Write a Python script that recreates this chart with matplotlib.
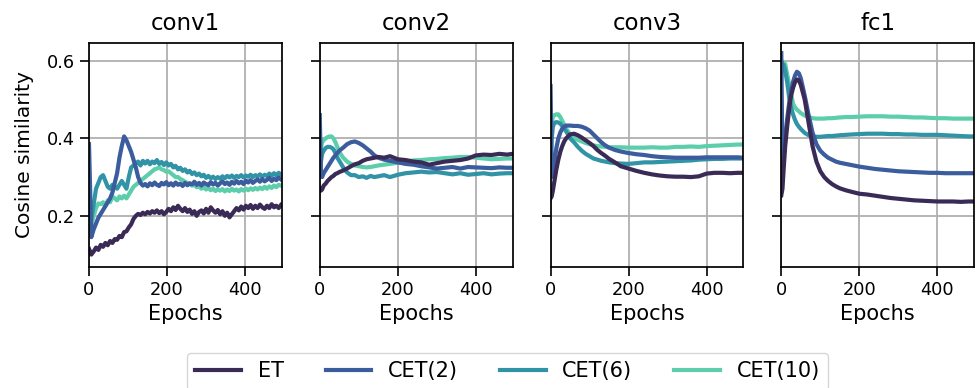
import matplotlib.pyplot as plt

labels = ["ET", "CET(2)", "CET(6)", "CET(10)"]
colors = ["#3a2b56", "#3b5c9d", "#3193a6", "#5dceab"]
titles = ["conv1", "conv2", "conv3", "fc1"]

# conv1 is noisy, read every 6 epochs
ep_conv1 = list(range(0, 495, 6))

conv1_et = [0.115, 0.100, 0.108, 0.118, 0.112, 0.125, 0.120, 0.130, 0.124, 0.135,
            0.130, 0.140, 0.138, 0.148, 0.145, 0.158, 0.160, 0.170, 0.178, 0.192,
            0.200, 0.205, 0.202, 0.208, 0.204, 0.210, 0.206, 0.212, 0.208, 0.214,
            0.207, 0.212, 0.204, 0.210, 0.218, 0.212, 0.222, 0.215, 0.226, 0.218,
            0.212, 0.220, 0.210, 0.216, 0.205, 0.212, 0.200, 0.210, 0.214, 0.206,
            0.218, 0.208, 0.222, 0.214, 0.208, 0.215, 0.204, 0.212, 0.200, 0.208,
            0.196, 0.204, 0.212, 0.220, 0.214, 0.224, 0.216, 0.226, 0.220, 0.228,
            0.218, 0.226, 0.220, 0.229, 0.222, 0.218, 0.226, 0.220, 0.230, 0.222,
            0.226, 0.220, 0.228]
conv1_c2 = [0.385, 0.145, 0.165, 0.180, 0.195, 0.205, 0.215, 0.225, 0.235, 0.245,
            0.260, 0.285, 0.310, 0.350, 0.380, 0.405, 0.395, 0.380, 0.365, 0.345,
            0.325, 0.300, 0.285, 0.278, 0.282, 0.276, 0.284, 0.279, 0.286, 0.280,
            0.277, 0.285, 0.281, 0.287, 0.279, 0.284, 0.278, 0.286, 0.280, 0.283,
            0.277, 0.285, 0.279, 0.284, 0.281, 0.288, 0.280, 0.285, 0.278, 0.286,
            0.282, 0.279, 0.287, 0.281, 0.285, 0.278, 0.284, 0.289, 0.282, 0.286,
            0.280, 0.288, 0.283, 0.290, 0.284, 0.288, 0.282, 0.291, 0.286, 0.292,
            0.285, 0.290, 0.294, 0.288, 0.295, 0.289, 0.293, 0.298, 0.290, 0.296,
            0.292, 0.299, 0.294]
conv1_c6 = [0.160, 0.190, 0.230, 0.270, 0.285, 0.300, 0.305, 0.290, 0.275, 0.270,
            0.280, 0.275, 0.270, 0.280, 0.290, 0.280, 0.270, 0.300, 0.325, 0.330,
            0.335, 0.340, 0.330, 0.342, 0.335, 0.342, 0.333, 0.340, 0.336, 0.344,
            0.334, 0.339, 0.331, 0.338, 0.330, 0.334, 0.325, 0.329, 0.320, 0.324,
            0.316, 0.320, 0.312, 0.316, 0.308, 0.312, 0.305, 0.309, 0.302, 0.306,
            0.298, 0.303, 0.297, 0.301, 0.295, 0.300, 0.296, 0.302, 0.297, 0.303,
            0.299, 0.304, 0.298, 0.303, 0.300, 0.305, 0.299, 0.304, 0.301, 0.306,
            0.300, 0.305, 0.302, 0.307, 0.301, 0.306, 0.303, 0.309, 0.304, 0.310,
            0.305, 0.311, 0.307]
conv1_c10 = [0.160, 0.175, 0.200, 0.220, 0.232, 0.230, 0.235, 0.225, 0.240, 0.235,
             0.250, 0.245, 0.240, 0.250, 0.245, 0.252, 0.245, 0.255, 0.265, 0.275,
             0.280, 0.285, 0.290, 0.295, 0.300, 0.305, 0.310, 0.315, 0.320, 0.322,
             0.325, 0.320, 0.318, 0.314, 0.315, 0.310, 0.305, 0.300, 0.300, 0.295,
             0.292, 0.288, 0.285, 0.282, 0.278, 0.280, 0.274, 0.276, 0.270, 0.274,
             0.268, 0.272, 0.266, 0.270, 0.264, 0.268, 0.265, 0.269, 0.263, 0.268,
             0.264, 0.270, 0.265, 0.268, 0.263, 0.269, 0.265, 0.270, 0.266, 0.271,
             0.267, 0.272, 0.268, 0.273, 0.269, 0.275, 0.270, 0.276, 0.272, 0.278,
             0.274, 0.280, 0.278]

# conv2, conv3 and fc1 are smoother
ep = [0, 3, 6, 10, 15, 20, 25, 30, 35, 40, 45, 50, 60, 70, 80, 90, 100, 110, 120, 130,
      140, 150, 165, 180, 200, 220, 240, 260, 280, 300, 320, 340, 360, 380, 400, 420,
      440, 460, 480, 494]

conv2_et = [0.270, 0.265, 0.268, 0.278, 0.283, 0.290, 0.295, 0.300, 0.303, 0.308,
            0.310, 0.313, 0.317, 0.322, 0.328, 0.333, 0.336, 0.342, 0.346, 0.348,
            0.350, 0.352, 0.350, 0.354, 0.346, 0.344, 0.340, 0.338, 0.332, 0.336,
            0.340, 0.342, 0.344, 0.348, 0.356, 0.358, 0.357, 0.360, 0.358, 0.360]
conv2_c2 = [0.460, 0.310, 0.300, 0.310, 0.318, 0.326, 0.334, 0.342, 0.350, 0.356,
            0.362, 0.368, 0.376, 0.385, 0.390, 0.392, 0.388, 0.382, 0.374, 0.366,
            0.356, 0.350, 0.345, 0.342, 0.338, 0.334, 0.332, 0.328, 0.325, 0.322,
            0.324, 0.326, 0.322, 0.326, 0.325, 0.324, 0.323, 0.325, 0.324, 0.324]
conv2_c6 = [0.310, 0.340, 0.360, 0.368, 0.375, 0.378, 0.378, 0.376, 0.372, 0.362,
            0.350, 0.342, 0.325, 0.312, 0.305, 0.305, 0.300, 0.302, 0.298, 0.303,
            0.300, 0.302, 0.305, 0.300, 0.306, 0.310, 0.312, 0.314, 0.312, 0.313,
            0.310, 0.307, 0.310, 0.306, 0.308, 0.310, 0.307, 0.309, 0.310, 0.310]
conv2_c10 = [0.350, 0.375, 0.390, 0.395, 0.400, 0.403, 0.405, 0.405, 0.400, 0.390,
             0.378, 0.365, 0.350, 0.340, 0.334, 0.330, 0.328, 0.326, 0.325, 0.326,
             0.328, 0.330, 0.332, 0.334, 0.337, 0.340, 0.343, 0.344, 0.346, 0.347,
             0.349, 0.350, 0.352, 0.352, 0.350, 0.348, 0.346, 0.347, 0.348, 0.348]

conv3_et = [0.245, 0.250, 0.265, 0.290, 0.320, 0.345, 0.365, 0.380, 0.392, 0.400,
            0.405, 0.410, 0.412, 0.408, 0.402, 0.395, 0.388, 0.380, 0.370, 0.362,
            0.355, 0.347, 0.338, 0.328, 0.322, 0.316, 0.311, 0.307, 0.304, 0.302,
            0.301, 0.301, 0.300, 0.302, 0.309, 0.311, 0.311, 0.310, 0.311, 0.311]
conv3_c2 = [0.535, 0.300, 0.310, 0.340, 0.375, 0.400, 0.415, 0.425, 0.430, 0.433,
            0.433, 0.433, 0.432, 0.432, 0.430, 0.426, 0.420, 0.410, 0.400, 0.390,
            0.382, 0.376, 0.370, 0.366, 0.362, 0.359, 0.357, 0.354, 0.352, 0.351,
            0.350, 0.350, 0.350, 0.350, 0.351, 0.351, 0.351, 0.351, 0.351, 0.350]
conv3_c6 = [0.330, 0.400, 0.430, 0.440, 0.442, 0.441, 0.438, 0.432, 0.425, 0.418,
            0.410, 0.400, 0.390, 0.378, 0.368, 0.360, 0.354, 0.348, 0.345, 0.342,
            0.340, 0.338, 0.336, 0.335, 0.334, 0.336, 0.338, 0.338, 0.339, 0.340,
            0.341, 0.342, 0.343, 0.345, 0.346, 0.347, 0.347, 0.348, 0.348, 0.348]
conv3_c10 = [0.400, 0.440, 0.455, 0.460, 0.462, 0.462, 0.455, 0.445, 0.435, 0.425,
             0.418, 0.410, 0.402, 0.396, 0.392, 0.388, 0.385, 0.382, 0.380, 0.379,
             0.378, 0.377, 0.377, 0.377, 0.376, 0.376, 0.376, 0.377, 0.376, 0.376,
             0.378, 0.378, 0.379, 0.378, 0.380, 0.381, 0.382, 0.383, 0.384, 0.384]

fc1_et = [0.253, 0.270, 0.320, 0.380, 0.430, 0.475, 0.510, 0.530, 0.545, 0.552,
          0.550, 0.538, 0.500, 0.440, 0.380, 0.340, 0.315, 0.300, 0.290, 0.282,
          0.276, 0.271, 0.266, 0.262, 0.257, 0.255, 0.252, 0.249, 0.246, 0.244,
          0.242, 0.240, 0.239, 0.238, 0.237, 0.237, 0.237, 0.236, 0.237, 0.237]
fc1_c2 = [0.620, 0.320, 0.350, 0.400, 0.450, 0.490, 0.520, 0.545, 0.562, 0.572,
          0.568, 0.555, 0.510, 0.460, 0.415, 0.385, 0.368, 0.358, 0.350, 0.345,
          0.340, 0.337, 0.334, 0.331, 0.327, 0.324, 0.321, 0.319, 0.317, 0.315,
          0.314, 0.313, 0.312, 0.311, 0.311, 0.310, 0.310, 0.310, 0.310, 0.310]
fc1_c6 = [0.600, 0.585, 0.590, 0.575, 0.545, 0.507, 0.480, 0.462, 0.448, 0.437,
          0.430, 0.424, 0.414, 0.408, 0.405, 0.404, 0.404, 0.405, 0.406, 0.406,
          0.407, 0.408, 0.409, 0.410, 0.411, 0.412, 0.412, 0.412, 0.411, 0.411,
          0.410, 0.410, 0.409, 0.409, 0.409, 0.408, 0.407, 0.406, 0.405, 0.405]
fc1_c10 = [0.560, 0.585, 0.595, 0.592, 0.565, 0.541, 0.515, 0.490, 0.480, 0.474,
           0.470, 0.465, 0.459, 0.455, 0.452, 0.451, 0.451, 0.451, 0.452, 0.452,
           0.453, 0.454, 0.455, 0.455, 0.456, 0.457, 0.457, 0.457, 0.456, 0.456,
           0.455, 0.454, 0.454, 0.453, 0.452, 0.452, 0.451, 0.451, 0.451, 0.451]

panels = [
    (ep_conv1, [conv1_et, conv1_c2, conv1_c6, conv1_c10]),
    (ep, [conv2_et, conv2_c2, conv2_c6, conv2_c10]),
    (ep, [conv3_et, conv3_c2, conv3_c6, conv3_c10]),
    (ep, [fc1_et, fc1_c2, fc1_c6, fc1_c10]),
]

fig, axes = plt.subplots(1, 4, figsize=(9.78, 3.88), dpi=100, sharey=True)
fig.subplots_adjust(left=0.091, right=0.996, top=0.89, bottom=0.312, wspace=0.197)

for ax, title, (x, series) in zip(axes, titles, panels):
    # draw CET(10) first so ET ends up on top
    for vals, lbl, c in reversed(list(zip(series, labels, colors))):
        ax.plot(x, vals, color=c, lw=3, label=lbl)
    ax.set_title(title, fontsize=16.5, pad=9)
    ax.set_xlabel("Epochs", fontsize=15)
    ax.set_xlim(0, 494)
    ax.set_xticks([0, 200, 400])
    ax.set_yticks([0.2, 0.4, 0.6])
    ax.grid(True, color="#b0b0b0", lw=1.3)
    ax.set_axisbelow(True)
    ax.tick_params(labelsize=12.8, length=6.5, width=1.2)
    for s in ax.spines.values():
        s.set_linewidth(1.25)

axes[0].set_ylim(0.068, 0.647)
axes[0].set_ylabel("Cosine similarity", fontsize=14.5, labelpad=9)

handles, lbls = axes[0].get_legend_handles_labels()
fig.legend(handles[::-1], lbls[::-1], loc="upper center", bbox_to_anchor=(0.519, 0.117),
           ncol=4, fontsize=15, frameon=True, columnspacing=2.0, handlelength=2.2)

plt.savefig("out.png")
